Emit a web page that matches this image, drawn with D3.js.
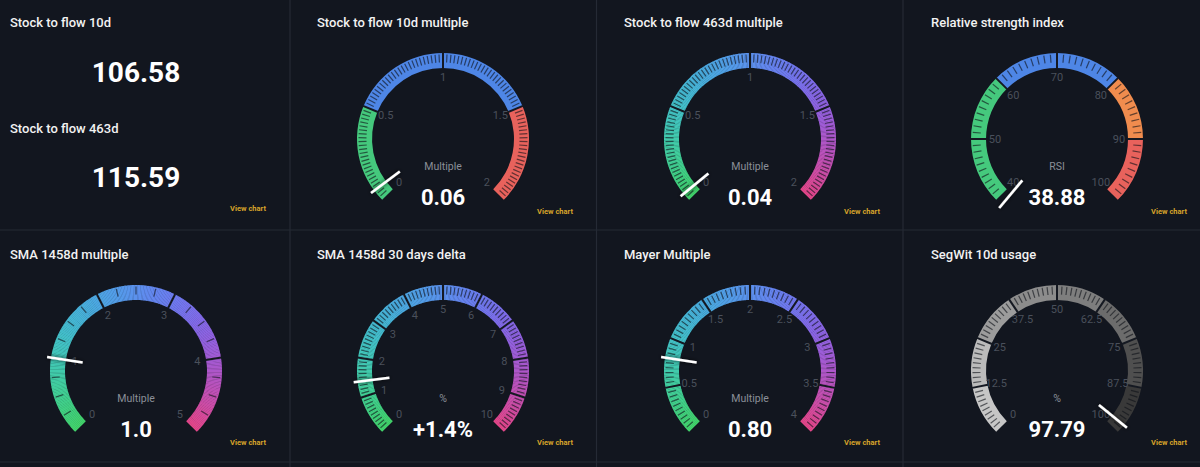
<!DOCTYPE html>
<html><head><meta charset="utf-8">
<script src="https://cdn.jsdelivr.net/npm/d3@7"></script>
<style>html,body{margin:0;padding:0;background:#12161f;}svg{display:block;}</style>
</head><body>
<script>
// ---- data ----
const statTitles = ["Stock to flow 10d", "Stock to flow 463d"];
const statValues = ["106.58", "115.59"];

const gaugeTitles = ["Stock to flow 10d multiple", "Stock to flow 463d multiple", "Relative strength index",
  "SMA 1458d multiple", "SMA 1458d 30 days delta", "Mayer Multiple", "SegWit 10d usage"];
const gaugeUnits = ["Multiple", "Multiple", "RSI", "Multiple", "%", "Multiple", "%"];
const gaugeValues = [0.06, 0.04, 38.88, 1.0, 1.4, 0.80, 97.79];
const gaugeDisplay = ["0.06", "0.04", "38.88", "1.0", "+1.4%", "0.80", "97.79"];
const gaugeMin = [0, 0, 40, 0, 0, 0, 0];
const gaugeMax = [2, 2, 100, 5, 10, 4, 100];
const gaugeTickLabels = [
  [0, 0.5, 1, 1.5, 2],
  [0, 0.5, 1, 1.5, 2],
  [40, 50, 60, 70, 80, 90, 100],
  [0, 1, 2, 3, 4, 5],
  [0, 1, 2, 3, 4, 5, 6, 7, 8, 9, 10],
  [0, 0.5, 1, 1.5, 2, 2.5, 3, 3.5, 4],
  [0, 12.5, 25, 37.5, 50, 62.5, 75, 87.5, 100]
];
const gaugeMinorStep = [0.02, 0.02, 1, 0.25, 0.1, 0.05, 1.25];

const bandsS2F10 = [[0, 0.5, "#45c97d"], [0.5, 1.5, "#4e86e6"], [1.5, 2, "#e8625c"]];
const bandsRSI = [[40, 60, "#45c97d"], [60, 80, "#4e86e6"], [80, 90, "#f08c4e"], [90, 100, "#e8625c"]];
const bandsSegWit = [[0, 12.5, "#c6c6c6"], [12.5, 25, "#bbbbbb"], [25, 37.5, "#9c9c9c"], [37.5, 50, "#8c8c8c"],
  [50, 62.5, "#7e7e7e"], [62.5, 75, "#6c6c6c"], [75, 87.5, "#4f4f4f"], [87.5, 100, "#393939"]];
const gradientStops = ["#42d46a", "#3ec8d2", "#5690f2", "#8e5cf0", "#e6478a"];
const gaugeBands = [bandsS2F10, null, bandsRSI, null, null, null, bandsSegWit];

// ---- layout ----
const W = 1200, H = 467;
const colStep = 307, rowStep = 232;
const outerR = 86, innerR = 71;
const bg = "#12161f", lineCol = "#252a35";

const svg = d3.select("body").append("svg").attr("width", W).attr("height", H);
svg.append("rect").attr("width", W).attr("height", H).attr("fill", bg);

const defs = svg.append("defs");
const f = defs.append("filter").attr("id", "sh").attr("x", "-50%").attr("y", "-50%").attr("width", "200%").attr("height", "200%");
f.append("feDropShadow").attr("dx", 0).attr("dy", 0).attr("stdDeviation", 2).attr("flood-color", "#000").attr("flood-opacity", 0.8);

// separators
[290, 596.5, 903].forEach(x => svg.append("line").attr("x1", x).attr("x2", x).attr("y1", 0).attr("y2", H)
  .attr("stroke", lineCol).attr("stroke-width", 1.2));
[230, 462].forEach(y => svg.append("line").attr("x1", 0).attr("x2", W).attr("y1", y).attr("y2", y)
  .attr("stroke", lineCol).attr("stroke-width", 1.2));

const font = "Roboto, 'Open Sans', sans-serif";

function title(x, y, t) {
  svg.append("text").attr("x", x).attr("y", y).text(t)
    .attr("font-family", font).attr("font-size", 13).attr("font-weight", 500).attr("fill", "#f2f2f2");
}
function viewChart(x, y) {
  svg.append("text").attr("x", x).attr("y", y).text("View chart").attr("text-anchor", "end")
    .attr("font-family", font).attr("font-size", 7.5).attr("font-weight", 700).attr("fill", "#d6a32a");
}

// panel 1: stats
statTitles.forEach((t, i) => {
  title(10, 27 + i * 106, t);
  svg.append("text").attr("x", 136).attr("y", 82 + i * 105).attr("text-anchor", "middle").text(statValues[i])
    .attr("font-family", font).attr("font-size", 28).attr("font-weight", 700).attr("fill", "#ffffff");
});
viewChart(266, 211);

// gauges
const arc = d3.arc();
const deg = Math.PI / 180;
gaugeTitles.forEach((t, gi) => {
  const p = gi + 1, col = p % 4, row = Math.floor(p / 4);
  const cx = 136 + colStep * col, cy = 139 + rowStep * row;
  title(10 + colStep * col, 27 + rowStep * row, t);
  viewChart(266 + colStep * col, 214 + rowStep * row - (row ? 1 : 0));

  const min = gaugeMin[gi], max = gaugeMax[gi];
  const ang = d3.scaleLinear().domain([min, max]).range([-135 * deg, 135 * deg]);
  const g = svg.append("g").attr("transform", `translate(${cx},${cy})`);

  // band
  const bands = gaugeBands[gi];
  if (bands) {
    bands.forEach(b => {
      g.append("path").attr("d", arc({innerRadius: innerR, outerRadius: outerR, startAngle: ang(b[0]), endAngle: ang(b[1])}))
        .attr("fill", b[2]);
    });
  } else {
    const interp = d3.interpolateRgbBasis(gradientStops);
    const N = 270;
    const tScale = d3.scaleLinear().domain([0, N]).range([min, max]);
    for (let k = 0; k < N; k++) {
      const a0 = ang(tScale(k)), a1 = ang(tScale(k + 1));
      g.append("path").attr("d", arc({innerRadius: innerR, outerRadius: outerR, startAngle: a0, endAngle: a1 + (k < N - 1 ? 0.004 : 0)}))
        .attr("fill", interp((k + 0.5) / N));
    }
  }

  // minor ticks
  const step = gaugeMinorStep[gi];
  const nMinor = Math.round((max - min) / step);
  const majors = gaugeTickLabels[gi];
  d3.range(1, nMinor).map(k => min + k * step).forEach(v => {
    if (majors.some(m => Math.abs(m - v) < step * 0.01)) return;
    const a = ang(v), s = Math.sin(a), c = -Math.cos(a);
    g.append("line").attr("x1", s * (outerR - 1.5)).attr("y1", c * (outerR - 1.5))
      .attr("x2", s * (outerR - 9.5)).attr("y2", c * (outerR - 9.5))
      .attr("stroke", "rgba(14,17,25,0.62)").attr("stroke-width", 1.2);
  });
  // major separators (not at the ends)
  majors.slice(1, -1).forEach(v => {
    const a = ang(v), s = Math.sin(a), c = -Math.cos(a);
    g.append("line").attr("x1", s * (outerR + 0.5)).attr("y1", c * (outerR + 0.5))
      .attr("x2", s * (innerR - 0.5)).attr("y2", c * (innerR - 0.5))
      .attr("stroke", "#151922").attr("stroke-width", 2);
  });
  // labels
  majors.forEach(v => {
    const a = ang(v);
    g.append("text").attr("x", Math.sin(a) * 62).attr("y", -Math.cos(a) * 62)
      .attr("text-anchor", "middle").attr("dominant-baseline", "central").text(String(v))
      .attr("font-family", font).attr("font-size", 11).attr("fill", "#4a505b");
  });
  // unit + value
  g.append("text").attr("x", 0).attr("y", 31).attr("text-anchor", "middle").text(gaugeUnits[gi])
    .attr("font-family", font).attr("font-size", 10.5).attr("fill", "#8a8f98");
  g.append("text").attr("x", 0).attr("y", 66).attr("text-anchor", "middle").text(gaugeDisplay[gi])
    .attr("font-family", font).attr("font-size", 22).attr("font-weight", 700).attr("fill", "#ffffff");
  // needle
  const a = ang(gaugeValues[gi]), s = Math.sin(a), c = -Math.cos(a);
  g.append("line").attr("x1", s * 54).attr("y1", c * 54).attr("x2", s * 90).attr("y2", c * 90)
    .attr("stroke", "#ffffff").attr("stroke-width", 2.6).attr("filter", "url(#sh)");
});
</script>
</body></html>
